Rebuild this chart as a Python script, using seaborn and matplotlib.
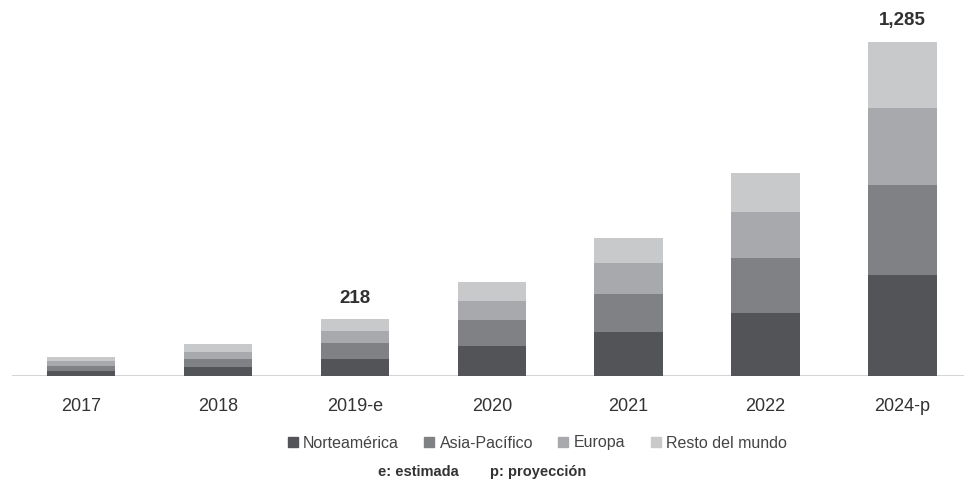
import matplotlib
matplotlib.use("Agg")
import matplotlib.pyplot as plt
from matplotlib.lines import Line2D
import numpy as np
import pandas as pd
import seaborn as sns

# Market size by region (stacked)
years = ["2017", "2018", "2019-e", "2020", "2021", "2022", "2024-p"]
norteamerica = [20, 33, 64, 115, 168, 241, 388]
asia_pacifico = [20, 31, 62, 100, 147, 211, 346]
europa = [17, 29, 46, 73, 118, 177, 295]
resto_mundo = [17, 29, 46, 74, 99, 150, 256]
regions = ["Norteamérica", "Asia-Pacífico", "Europa", "Resto del mundo"]
colors = ["#535457", "#808185", "#a8a9ac", "#c8c9cb"]
labelled = {"2019-e": "218", "2024-p": "1,285"}

sns.set_theme(style="white")
plt.rcParams["font.family"] = ["Liberation Sans", "DejaVu Sans"]

df = pd.DataFrame({
    "year": years,
    regions[0]: norteamerica,
    regions[1]: asia_pacifico,
    regions[2]: europa,
    regions[3]: resto_mundo,
})
cum = df[regions].cumsum(axis=1)

fig = plt.figure(figsize=(9.64, 4.98), dpi=100)
ax = fig.add_axes([12 / 964, 122 / 498, 1 - 12 / 964, (376 - 20) / 498])

# Draw the cumulative layers from the top down so each one covers the next
for reg, col in reversed(list(zip(regions, colors))):
    sns.barplot(x=df["year"], y=cum[reg], color=col, width=0.5,
                saturation=1, ax=ax, linewidth=0, edgecolor="none")

totals = cum[regions[-1]].tolist()
for i, (yr, tot) in enumerate(zip(years, totals)):
    if yr in labelled:
        ax.text(i, tot + 48, labelled[yr], ha="center", va="bottom",
                fontsize=13.5, color="#303030", fontweight="bold")

ax.set_xlim(-0.505, 6.45)
ax.set_ylim(0, 1368)
ax.axhline(0, color="#cfcfcf", lw=2, zorder=0)
for s in ax.spines.values():
    s.set_visible(False)
ax.set_yticks([])
ax.set_xlabel("")
ax.set_ylabel("")
ax.tick_params(axis="x", length=0, pad=16, labelsize=13, labelcolor="#333333")

handles = [Line2D([0], [0], marker="s", linestyle="none", markersize=7.5,
                  markerfacecolor=c, markeredgecolor=c) for c in colors]
fig.legend(handles, regions, loc="center", bbox_to_anchor=(537 / 964, 1 - 443 / 498),
           ncol=4, frameon=False, fontsize=11.5, handlelength=0.7,
           handletextpad=0.3, columnspacing=1.55, labelcolor="#444444")

fig.text(378 / 964, 1 - 472 / 498, "e: estimada", ha="left", va="center",
         fontsize=10.5, fontweight="bold", color="#333333")
fig.text(490 / 964, 1 - 472 / 498, "p: proyección", ha="left", va="center",
         fontsize=10.5, fontweight="bold", color="#333333")

fig.savefig("out.png", dpi=100, facecolor="white")
